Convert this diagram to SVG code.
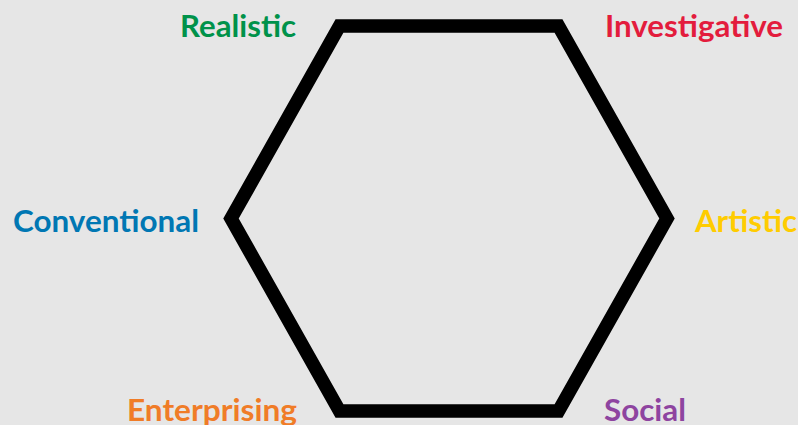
<svg xmlns="http://www.w3.org/2000/svg" width="798" height="425" viewBox="0 0 798 425">
<style>
.lbl{font-family:Lato,"Open Sans","Liberation Sans",sans-serif;font-weight:bold;font-size:30.5px}
</style>
<rect x="0" y="0" width="798" height="425" fill="#e6e6e6"/>
<g id="connectors">
<polygon points="339.5,26 558.5,26 667,218.5 558.5,411 339.5,411 231,218.5" fill="none" stroke="#000" stroke-width="13.5" stroke-linejoin="miter" stroke-miterlimit="10"/>
</g>
<g id="realistic"><text class="lbl" x="180" y="37" fill="#00924a" textLength="116" lengthAdjust="spacingAndGlyphs">Realistic</text></g>
<g id="investigative"><text class="lbl" x="605" y="37" fill="#e31c3d" textLength="178" lengthAdjust="spacingAndGlyphs">Investigative</text></g>
<g id="conventional"><text class="lbl" x="13" y="232" fill="#0077b3" textLength="186" lengthAdjust="spacingAndGlyphs">Conventional</text></g>
<g id="artistic"><text class="lbl" x="695" y="232" fill="#ffcc00" textLength="102" lengthAdjust="spacingAndGlyphs">Artistic</text></g>
<g id="enterprising"><text class="lbl" x="127" y="421" fill="#f07c27" textLength="170" lengthAdjust="spacingAndGlyphs">Enterprising</text></g>
<g id="social"><text class="lbl" x="604" y="421" fill="#8e44a0" textLength="82" lengthAdjust="spacingAndGlyphs">Social</text></g>
</svg>
